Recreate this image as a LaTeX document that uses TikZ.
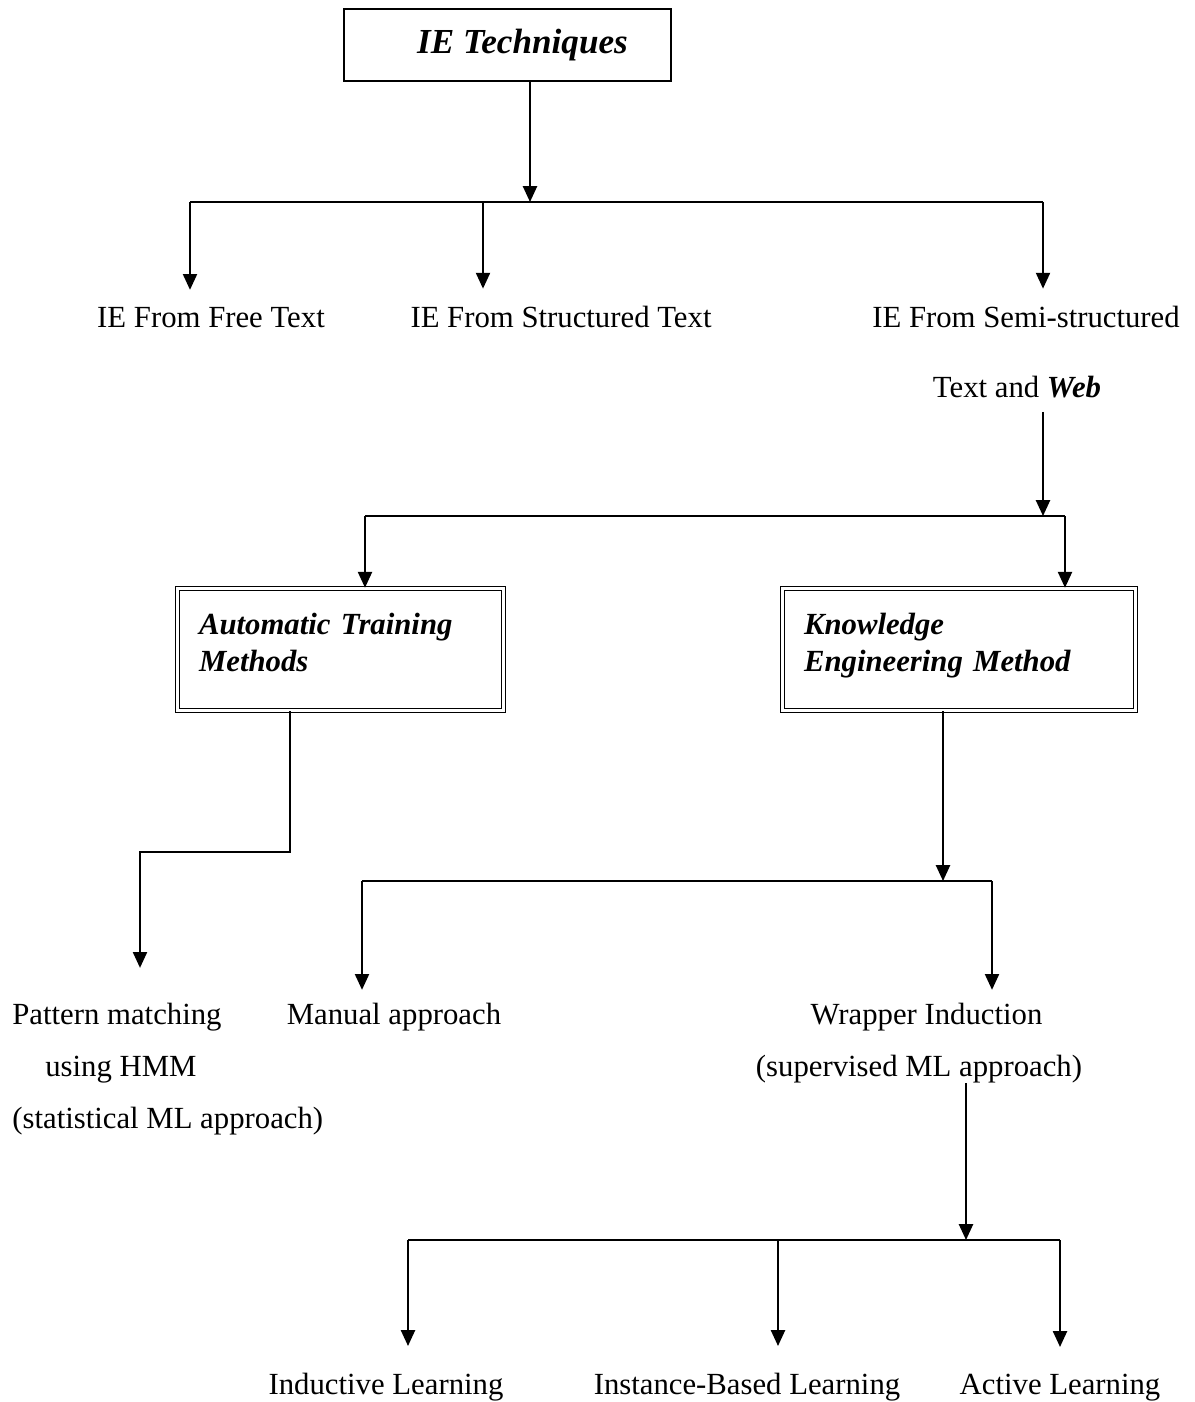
\documentclass[tikz,border=0pt]{standalone}
\usepackage{fontspec}
\setmainfont{Liberation Serif}
\usetikzlibrary{arrows.meta,positioning,calc}

\begin{document}
\begin{tikzpicture}[
  x=0.02cm, y=-0.02cm,
  conn/.style={line width=1.1pt},
  arr/.style={line width=1.1pt, -{Triangle[length=9pt, width=8pt]}},
  leaf/.style={font=\fontsize{17.5}{29.5}\selectfont, inner sep=0pt},
  titlebox/.style={draw, line width=1.1pt, inner sep=0pt, minimum width=6.54cm, minimum height=1.44cm,
    font=\fontsize{20}{24}\selectfont\bfseries\itshape},
  methbox/.style={draw, double, double distance=1.4pt, line width=0.9pt, inner xsep=0.43cm, inner ysep=0pt,
    minimum height=2.44cm, align=left, text depth=1.04cm, font=\fontsize{17.5}{21}\selectfont\bfseries\itshape},
]
% page frame (pixel units: 1195 x 1402)
\useasboundingbox (0,0) rectangle (1195,1402);

% boxes
\node[titlebox] (tech) at (507.5,45) {\hspace*{0.6cm}IE Techniques};
\node[methbox, text width=5.66cm] (atm) at (340.5,649.5) {Automatic Training\\Methods};
\node[methbox, text width=6.2cm] (kem) at (959,649.5) {Knowledge\\Engineering Method};

% plain labels
\node[leaf, anchor=base] (free) at (211,327) {IE From Free Text};
\node[leaf, anchor=base] (struct) at (561,327) {IE From Structured Text};
\node[leaf, anchor=base] (semi) at (1026,327) {IE From Semi-structured};
\node[leaf, anchor=base] (semiweb) at (1017,397) {Text and \textbf{\textit{Web}}};
\node[leaf, anchor=north west, align=left] (pattern) at (12,1003)
  {Pattern matching\\\hspace*{0.66cm}using HMM\\(statistical ML approach)};
\node[leaf, anchor=base] (manual) at (394,1024) {Manual approach};
\node[leaf, anchor=north, align=center] (wrapper) at (919,1003)
  {\hspace*{0.3cm}Wrapper Induction\\(supervised ML approach)};
\node[leaf, anchor=base] (induct) at (386,1394) {Inductive Learning};
\node[leaf, anchor=base] (inst) at (747,1394) {Instance-Based Learning};
\node[leaf, anchor=base] (active) at (1060,1394) {Active Learning};

% junction points
\coordinate (t1) at (530,202);
\coordinate (s1a) at (190,202);
\coordinate (s1b) at (483,202);
\coordinate (s1c) at (1043,202);
\coordinate (w1) at (1043,516);
\coordinate (s2a) at (365,516);
\coordinate (s2b) at (1065,516);
\coordinate (a1) at (290,852);
\coordinate (a2) at (140,852);
\coordinate (k1) at (943,881);
\coordinate (s3a) at (362,881);
\coordinate (s3b) at (992,881);
\coordinate (r1) at (966,1240);
\coordinate (s4a) at (408,1240);
\coordinate (s4b) at (778,1240);
\coordinate (s4c) at (1060,1240);

% first level
\draw[arr] (t1 |- tech.south) -- (t1);
\draw[conn] (s1a) -- (s1c);
\draw[arr, shorten >=9.5pt] (s1a) -- (s1a |- free.north);
\draw[arr, shorten >=9.5pt] (s1b) -- (s1b |- struct.north);
\draw[arr, shorten >=9.5pt] (s1c) -- (s1c |- semi.north);

% semi-structured split
\draw[arr, shorten <=8pt] (w1 |- semiweb.south) -- (w1);
\draw[conn] (s2a) -- (s2b);
\draw[arr] (s2a) -- (s2a |- atm.north);
\draw[arr] (s2b) -- (s2b |- kem.north);

% automatic training
\draw[arr, shorten >=20pt] (a1 |- atm.south) -- (a1) -- (a2) -- (a2 |- pattern.north);

% knowledge engineering
\draw[arr] (k1 |- kem.south) -- (k1);
\draw[conn] (s3a) -- (s3b);
\draw[arr, shorten >=7.5pt] (s3a) -- (s3a |- wrapper.north);
\draw[arr, shorten >=7.5pt] (s3b) -- (s3b |- wrapper.north);

% wrapper induction
\draw[arr] (r1 |- wrapper.south) -- (r1);
\draw[conn] (s4a) -- (s4c);
\draw[arr, shorten >=15pt] (s4a) -- (s4a |- induct.north);
\draw[arr, shorten >=15pt] (s4b) -- (s4b |- inst.north);
\draw[arr, shorten >=15pt] (s4c) -- (s4c |- active.north);
\end{tikzpicture}
\end{document}
